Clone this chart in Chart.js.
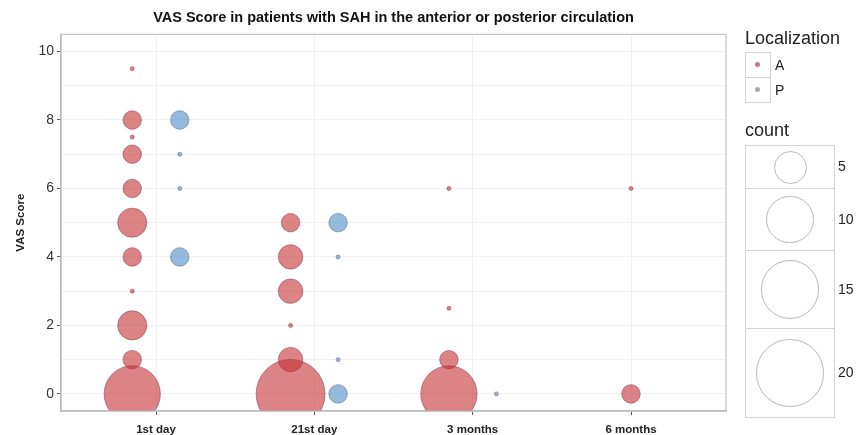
<!DOCTYPE html>
<html>
<head>
<meta charset="utf-8">
<script src="https://cdn.jsdelivr.net/npm/chart.js@4.4.0/dist/chart.umd.min.js"></script>
<style>
  body { margin: 0; background: #fff; font-family: "Liberation Sans", Arial, sans-serif; }
  #wrap { position: relative; width: 857px; height: 435px; }
  .lg { position: absolute; color: #222; }
  .box { position: absolute; border: 1px solid #d4d4d4; box-sizing: border-box; }
  .ring { position: absolute; border: 1px solid #b8b8b8; border-radius: 50%; box-sizing: border-box; }
  .dot { position: absolute; width: 5px; height: 5px; border-radius: 50%; }
</style>
</head>
<body>
<div id="wrap">
  <canvas id="c" width="857" height="435"></canvas>
  <div id="legend"></div>
</div>
<script>
// categories on the x axis
var categories = ['1st day', '21st day', '3 months', '6 months'];

// Localization A (anterior): category index, VAS score, count
var aDay   = [0, 0, 0, 0, 0, 0, 0, 0, 0, 0, 0,   1, 1, 1, 1, 1, 1,   2, 2, 2, 2,   3, 3];
var aScore = [9.5, 8, 7.5, 7, 6, 5, 4, 3, 2, 1, 0,   5, 4, 3, 2, 1, 0,   6, 2.5, 1, 0,   6, 0];
var aCount = [1, 2, 1, 2, 2, 4, 2, 1, 4, 2, 14,   2, 3, 3, 1, 3, 21,   1, 1, 2, 14,   1, 2];

// Localization P (posterior)
var pDay   = [0, 0, 0, 0,   1, 1, 1, 1,   2];
var pScore = [8, 7, 6, 4,   5, 4, 1, 0,   0];
var pCount = [2, 1, 1, 2,   2, 1, 1, 2,   1];

// legend keys for the size scale
var countKeys = [5, 10, 15, 20];

function radius(n) {
  return 2 + 7.25 * Math.sqrt(n - 1);
}

function hasBoth(day) {
  return aDay.indexOf(day) >= 0 && pDay.indexOf(day) >= 0;
}

function buildPoints(days, scores, counts, side) {
  var pts = [];
  for (var i = 0; i < days.length; i++) {
    var off = hasBoth(days[i]) ? side * 0.15 : 0;
    pts.push({ x: days[i] + 1 + off, y: scores[i], r: radius(counts[i]), n: counts[i] });
  }
  return pts;
}

var frame = {
  id: 'frame',
  afterDraw: function(chart) {
    var a = chart.chartArea, ctx = chart.ctx;
    ctx.save();
    ctx.strokeStyle = '#c4c4c4';
    ctx.lineWidth = 1.2;
    ctx.strokeRect(a.left, a.top, a.right - a.left, a.bottom - a.top);
    ctx.restore();
  }
};

var ctx = document.getElementById('c').getContext('2d');
var chart = new Chart(ctx, {
  type: 'bubble',
  data: {
    datasets: [{
      label: 'A',
      data: buildPoints(aDay, aScore, aCount, -1),
      backgroundColor: 'rgba(196,48,52,0.6)',
      borderColor: 'rgba(150,60,85,0.55)',
      borderWidth: 1
    }, {
      label: 'P',
      data: buildPoints(pDay, pScore, pCount, 1),
      backgroundColor: 'rgba(80,138,200,0.6)',
      borderColor: 'rgba(100,110,130,0.55)',
      borderWidth: 1
    }]
  },
  options: {
    responsive: false,
    animation: false,
    layout: { autoPadding: false, padding: { left: 0, right: 131, top: 0, bottom: 0 } },
    plugins: {
      legend: { display: false },
      tooltip: { enabled: false },
      title: {
        display: true,
        fullSize: false,
        text: 'VAS Score in patients with SAH in the anterior or posterior circulation',
        color: '#111',
        font: { family: 'Liberation Sans', size: 14.5, weight: 'bold' },
        padding: { top: 9, bottom: 8 }
      }
    },
    scales: {
      x: {
        type: 'linear',
        min: 0.4,
        max: 4.6,
        afterBuildTicks: function(s) {
          s.ticks = categories.map(function(c, i) { return { value: i + 1 }; });
        },
        afterFit: function(s) { s.height = 24; },
        ticks: {
          color: '#222',
          padding: 8,
          font: { family: 'Liberation Sans', size: 11.5, weight: 'bold' },
          callback: function(v) { return categories[v - 1]; }
        },
        grid: { color: '#f1f1f1', tickColor: '#555', tickLength: 4 },
        border: { color: '#b0b0b0', width: 1.5 }
      },
      y: {
        min: -0.5,
        max: 10.5,
        afterBuildTicks: function(s) {
          var t = [];
          for (var v = 0; v <= 10; v++) t.push({ value: v });
          s.ticks = t;
        },
        afterFit: function(s) { s.width = 61; },
        title: {
          display: true,
          text: 'VAS Score',
          color: '#222',
          font: { family: 'Liberation Sans', size: 11.5, weight: 'bold' },
          padding: { top: 14, bottom: 0 }
        },
        ticks: {
          color: '#333',
          padding: 3,
          font: { family: 'Liberation Sans', size: 14 },
          callback: function(v) { return v % 2 === 0 ? v : ''; }
        },
        grid: {
          color: '#f1f1f1',
          tickLength: 4,
          tickColor: function(c) { return c.tick && c.tick.value % 2 === 0 ? '#555' : 'rgba(0,0,0,0)'; }
        },
        border: { color: '#b0b0b0', width: 1.5 }
      }
    }
  },
  plugins: [frame]
});

// legends (drawn as html beside the chart)
var lg = document.getElementById('legend');
var html = '';
html += '<div class="lg" style="left:745px;top:28px;font-size:18px;">Localization</div>';
html += '<div class="box" style="left:745px;top:52px;width:26px;height:26px;"></div>';
html += '<div class="box" style="left:745px;top:77px;width:26px;height:26px;"></div>';
html += '<div class="dot" style="left:755px;top:62px;background:rgba(185,85,110,0.8);"></div>';
html += '<div class="dot" style="left:755px;top:87px;background:rgba(140,150,165,0.8);"></div>';
html += '<div class="lg" style="left:775px;top:57px;font-size:14px;">A</div>';
html += '<div class="lg" style="left:775px;top:82px;font-size:14px;">P</div>';
html += '<div class="lg" style="left:745px;top:120px;font-size:18px;">count</div>';
var edges = [145, 188, 250, 328, 417];
for (var k = 0; k < countKeys.length; k++) {
  var boxTop = edges[k], h = edges[k + 1] - edges[k] + 1;
  var d = 2 * radius(countKeys[k]);
  html += '<div class="box" style="left:745px;top:' + boxTop + 'px;width:90px;height:' + h + 'px;"></div>';
  html += '<div class="ring" style="left:' + (790 - d / 2) + 'px;top:' + (boxTop + h / 2 - d / 2) + 'px;width:' + d + 'px;height:' + d + 'px;"></div>';
  html += '<div class="lg" style="left:838px;top:' + (boxTop + h / 2 - 9) + 'px;font-size:14px;">' + countKeys[k] + '</div>';
}
lg.innerHTML = html;
</script>
</body>
</html>
